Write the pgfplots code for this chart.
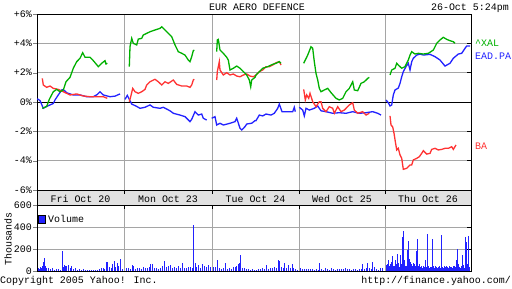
\documentclass[border=0pt]{standalone}
\usepackage{fontspec}
\setmainfont{Liberation Mono}
\usepackage{pgfplots}
\pgfplotsset{compat=1.18}
\definecolor{ygreen}{RGB}{0,176,0}
\definecolor{yred}{RGB}{255,51,51}
\definecolor{yblue}{RGB}{34,34,255}
\definecolor{ygrid}{RGB}{165,165,165}
\definecolor{ystrip}{RGB}{225,225,225}
\begin{document}
\fontsize{10}{12}\selectfont
\begin{tikzpicture}[x=1bp,y=1bp]
\path[use as bounding box] (0,0) rectangle (512,288);
% main axis
\begin{axis}[at={(37bp,98bp)}, anchor=south west, scale only axis,
  width=434bp, height=176bp, xmin=37, xmax=471, ymin=-6, ymax=6,
  /pgf/number format/assume math mode=true,
  xtick={124,212,299,385}, xticklabels={}, xmajorgrids, x tick style={draw=none},
  ytick={-6,-4,-2,0,2,4,6}, yticklabels={-6\%,-4\%,-2\%,0\%,+2\%,+4\%,+6\%},
  ymajorgrids, ytick pos=left, tick align=outside, major tick length=4bp,
  grid style={ygrid, line width=0.8bp}, axis line style={black, line width=0.8bp},
  yticklabel style={inner sep=1bp},
  unbounded coords=jump, clip=true]
\draw[black, line width=0.8bp] (axis cs:37,0) -- (axis cs:471,0);
\pgfplotsinvokeforeach{-4,-2,2,4}{\draw[black, line width=0.8bp] (axis cs:467,#1) -- (axis cs:471,#1);}
% EAD.PA
\addplot[yblue, line width=1.3bp] coordinates {
(37.3,0.22) (40,0.1) (43.3,-0.43) (46.7,-0.3) (50,-0.2) (53.3,-0.1) (55,0.14) (58.3,0.48) (61.7,0.82) (63.3,0.85) (66.7,0.63) (70,0.55) (73.3,0.48) (80,0.48) (86.7,0.36) (93.3,0.36) (97,0.5) (100,0.7) (103.3,0.48) (110,0.36) (115,0.4) (120,0.55)
(121,nan)
(125,0.18) (127.3,0.45) (129.3,0.18) (131.7,-0.14) (136.7,-0.3) (140,-0.43) (145,-0.36) (150,-0.2) (153.3,-0.36) (160,-0.43) (163.3,-0.36) (170,-0.6) (173.3,-0.77) (180,-0.89) (185,-1.0) (190,-1.34) (191.7,-1.18) (195,-0.66) (198.3,-0.89) (201.7,-0.82) (203.3,-1.11) (206.7,-1.23)
(208,nan)
(211.7,-1.11) (215,-1.0) (216.7,-1.57) (220,-1.45) (223.3,-1.57) (230,-1.45) (235,-1.34) (236.7,-1.11) (240,-1.79) (241.7,-1.91) (245,-1.68) (246.7,-1.5) (251.7,-1.45) (255,-1.27) (256,-1.27) (259.3,-0.89) (262.7,-0.95) (266,-0.82) (271,-0.89) (274.3,-0.77) (277.7,-0.43) (279.3,-0.14) (282,-0.66) (286,-0.66) (292.7,-0.66) (294.3,-0.36) (295.3,-0.66)
(297,nan)
(299.3,-0.36) (302.7,-0.55) (304.3,-0.95) (306,-0.43) (309.3,-0.55) (314.3,-0.43) (317.7,-0.27) (321,-0.6) (326,-0.66) (332.7,-0.77) (339.3,-0.73) (346,-0.77) (352.7,-0.66) (359.3,-0.77) (366,-0.73) (372.7,-0.66) (377.7,-0.77) (381,-0.89)
(383,nan)
(386,0.14) (388.3,-0.05) (390,-0.27) (391.7,-0.2) (393.3,0.48) (395,0.82) (398.3,0.95) (400,1.27) (401.7,1.72) (403.3,2.07) (406,2.41) (408.3,2.64) (410,2.18) (411.7,2.75) (413.3,2.98) (416.7,3.2) (420,3.27) (423.3,3.2) (430,3.25) (435,3.09) (440,2.86) (445,2.45) (450,2.64) (453.3,2.98) (458.3,3.27) (461.7,3.32) (465,3.66) (466.7,3.82) (470,3.82)
};
% BA
\addplot[yred, line width=1.3bp] coordinates {
(42.3,1.61) (43.3,1.16) (46.7,1.0) (50,1.09) (53.3,0.93) (58.3,0.86) (63.3,0.7) (70,0.48) (76.7,0.55) (83.3,0.41) (90,0.36) (96.7,0.36) (103.3,0.36) (107.3,0.25)
(108,nan)
(129.3,0.02) (130.7,0.36) (132.7,0.93) (135,0.7) (138.3,0.59) (141.7,0.7) (145,0.86) (146.7,1.16) (150,1.38) (155,1.55) (158.3,1.38) (161.7,1.16) (165,1.38) (168.3,1.27) (173.3,1.5) (176.7,1.2) (181.7,1.09) (186.7,1.09) (190,1.0) (191.7,1.16) (193.3,1.5) (194.3,1.55)
(195,nan)
(216.7,1.5) (217.3,2.07) (219.3,2.75) (220,2.18) (223.3,1.84) (226.7,2.0) (230,1.84) (233.3,1.91) (236.7,1.77) (240,1.72) (243.3,1.84) (246.7,1.91) (250,1.77) (253.3,1.72) (256,1.84) (259.3,2.07) (262.7,2.18) (266,2.41) (269.3,2.41) (272.7,2.52) (276,2.68) (279.3,2.75) (281,2.52)
(282,nan)
(303.7,0.86) (305.3,0.14) (306.7,0.48) (308.7,0.25) (310,0.59) (312.7,0.02) (316,-0.32) (319.3,0.02) (321,0.02) (322.7,-0.43) (326,-0.66) (329.3,-0.32) (332.7,-0.43) (334.3,-0.77) (337.7,-0.32) (341,-0.66) (344.3,-0.55) (349.3,-0.2) (352.7,-0.05) (354.3,-0.55) (357.7,-0.77) (362.7,-0.66) (366,-0.89) (369.3,-0.77)
(370,nan)
(390,-0.95) (391,-1.57) (392.7,-1.7) (394,-2.13) (395.3,-2.7) (396.7,-3.27) (398.3,-3.16) (400,-3.61) (401.7,-3.84) (403.3,-4.59) (406.7,-4.52) (410,-4.29) (411.7,-4.29) (413.3,-3.95) (416.7,-3.84) (419.3,-3.73) (421.7,-3.5) (423.3,-3.32) (426.7,-3.55) (430,-3.5) (431.7,-3.23) (435,-3.16) (438.3,-3.27) (441.7,-3.23) (445,-3.16) (448.3,-3.16) (451.7,-3.05) (453.3,-3.23) (456,-2.93)
};
% ^XAL
\addplot[ygreen, line width=1.3bp] coordinates {
(42.3,-0.43) (46.7,-0.3) (49.3,0.18) (53.3,0.7) (56.7,0.86) (60,0.7) (63.3,0.82) (66,1.38) (70,1.68) (73.3,2.3) (76.7,2.75) (80,2.98) (82.7,3.36) (85,3.05) (90,3.05) (93.3,2.82) (98.3,2.41) (101.7,2.64) (105,2.82) (106,2.59) (107.3,2.64)
(108,nan)
(129.3,2.41) (130,3.77) (131.7,4.34) (133.3,4.0) (136.7,3.89) (138.3,4.29) (141.7,4.34) (143.3,4.57) (146.7,4.68) (150,4.79) (155,4.91) (160,5.02) (161.7,5.13) (165,4.91) (168.3,4.68) (171.7,4.45) (175,3.89) (178.3,3.43) (181.7,3.32) (185,3.2) (188.3,2.86) (190,2.75) (191.7,3.09) (193.3,3.5) (194.3,3.54)
(195,nan)
(216.7,3.43) (217.3,4.23) (218.3,4.27) (220,3.54) (223.3,3.32) (226.7,3.05) (228.3,2.86) (230,2.18) (233.3,2.3) (236.7,2.45) (240,2.3) (243.3,2.07) (246.7,1.84) (249.3,1.5) (250.7,1.04) (251.7,1.5) (255,1.68) (256,1.84) (259.3,2.07) (262.7,2.3) (267.7,2.41) (272.7,2.57) (276,2.64) (279.3,2.75) (281,2.64)
(282,nan)
(303.7,2.64) (305.3,2.86) (307.7,3.2) (311,3.77) (312.7,3.66) (314.3,2.75) (316,1.95) (317.7,1.5) (319.3,0.93) (321,0.7) (324.3,0.82) (327.7,0.93) (331,0.64) (336,0.25) (339.3,0.14) (342.7,0.25) (346,0.7) (349.3,0.93) (352.7,1.38) (354.3,0.82) (357.7,0.77) (361,1.27) (364.3,1.38) (367.7,1.61) (369.3,1.68)
(370,nan)
(390,1.84) (391.7,2.18) (395,2.3) (396.7,2.64) (398.3,2.52) (401.7,2.3) (405,2.41) (408.3,2.86) (410,3.2) (411.7,3.43) (415,3.27) (418.3,3.32) (423.3,3.27) (428.3,3.32) (433.3,3.54) (436.7,4.0) (440,4.23) (443.3,4.41) (446.7,4.27) (450,4.18) (453.3,4.11) (455,4.0)
};
\end{axis}
% volume axis
\begin{axis}[at={(37bp,17bp)}, anchor=south west, scale only axis,
  width=434bp, height=66bp, xmin=37, xmax=471, ymin=0, ymax=600,
  /pgf/number format/assume math mode=true,
  xtick={124,212,299,385}, xticklabels={}, xmajorgrids, x tick style={draw=none},
  ytick={0,200,400,600}, ymajorgrids, ytick pos=left, tick align=outside, major tick length=4bp,
  grid style={ygrid, line width=0.8bp}, axis line style={black, line width=0.8bp},
  yticklabel style={inner sep=1bp},
  legend style={draw=none, fill=none, at={(0,0.9)}, anchor=north west, inner sep=1bp,
    legend cell align=left, font=\fontsize{10}{12}\selectfont},
  legend image code/.code={\fill[yblue] (0bp,-4bp) rectangle (7bp,4bp); \draw[black,line width=0.5bp] (0bp,-4bp) rectangle (7bp,4bp);},
  ]
\pgfplotsinvokeforeach{200,400}{\draw[black, line width=0.8bp] (axis cs:467,#1) -- (axis cs:471,#1);}
\addplot[ycomb, yblue, line width=1bp] coordinates {
(38,30)(39,20)(40,35)(41,25)(42,45)(43,80)(44,120)(45,50)(46,25)(48,30)(50,15)(52,30)(54,10)(56,20)(58,15)(60,10)(62,185)(63,40)(64,55)(65,45)(66,50)(68,55)(70,30)(71,45)(73,15)(75,25)(77,10)(79,15)(81,10)(83,15)(85,10)(87,5)(89,10)(91,5)(93,10)(95,5)(97,10)(99,15)(101,25)(103,30)(104,15)(106,80)(107,85)(109,40)(111,30)(112,60)(114,90)(115,35)(117,70)(118,45)(120,112)(122,20)
(126,25)(128,30)(130,20)(132,57)(133,45)(135,20)(137,25)(139,30)(141,20)(143,35)(145,25)(147,30)(149,40)(150,60)(152,66)(154,25)(156,30)(158,20)(160,30)(162,45)(164,94)(166,40)(168,50)(170,55)(172,30)(174,40)(176,30)(178,45)(180,25)(182,70)(184,30)(186,25)(188,35)(190,40)(192,30)(193,420)(195,70)(196,40)(198,55)(200,30)(202,60)(204,45)(206,35)(208,55)(210,40)
(213,40)(215,35)(217,100)(219,30)(221,15)(223,25)(225,70)(227,20)(229,30)(231,15)(233,35)(235,40)(236,50)(238,60)(239,70)(240,145)(242,30)(244,25)(246,15)(248,20)(250,10)(252,15)(254,10)(256,10)(258,20)(260,15)(262,25)(264,20)(266,55)(268,20)(270,25)(272,30)(274,35)(276,30)(278,100)(279,95)(281,40)(283,30)(284,70)(286,30)(288,55)(290,25)(292,65)(293,30)(295,15)(297,10)
(300,25)(302,15)(304,20)(306,15)(308,20)(310,15)(312,20)(314,10)(316,15)(318,10)(319,75)(321,15)(323,10)(325,25)(327,15)(329,10)(331,25)(333,15)(335,10)(337,20)(339,15)(341,20)(343,15)(345,25)(347,15)(349,20)(351,10)(353,15)(355,20)(357,10)(359,15)(361,20)(362,64)(364,20)(366,25)(367,77)(369,30)(371,20)(372,85)(374,40)(376,20)(378,10)(380,25)(382,30)
(386,55)(387,60)(388,100)(389,45)(390,60)(391,80)(392,140)(393,50)(394,45)(395,100)(396,60)(397,155)(398,70)(399,40)(400,145)(401,60)(402,305)(403,364)(404,100)(405,50)(406,45)(407,190)(408,270)(409,110)(410,80)(411,60)(412,45)(413,70)(414,60)(415,50)(416,185)(417,295)(418,45)(419,60)(420,40)(421,50)(422,30)(423,45)(424,40)(425,100)(426,40)(427,340)(428,45)(429,30)(430,40)(431,35)(432,295)(433,45)(434,30)(435,50)(436,40)(437,30)(438,40)(439,50)(440,30)(441,327)(442,40)(443,30)(444,45)(445,35)(446,50)(447,40)(448,30)(449,45)(450,35)(451,40)(452,30)(453,50)(454,45)(455,35)(456,100)(457,200)(458,60)(459,40)(460,30)(461,50)(462,145)(463,55)(464,30)(465,310)(466,260)(467,60)(468,318)(469,40)
};
\addlegendentry{Volume}
\end{axis}
% date strip
\fill[ystrip] (37,83) rectangle (471,98);
\draw[black, line width=0.8bp] (37,98) -- (471,98);
\draw[black, line width=0.8bp] (37,83) -- (471,83);
\draw[black, line width=0.8bp] (37,83) -- (37,98);
\draw[black, line width=0.8bp] (471,83) -- (471,98);
\foreach \xx in {124,212,299,385} {\draw[black, line width=0.8bp] (\xx,94) -- (\xx,98); \draw[black, line width=0.8bp] (\xx,83) -- (\xx,79);}
\node[anchor=base, inner sep=0] at (80.5,86) {Fri Oct 20};
\node[anchor=base, inner sep=0] at (168,86) {Mon Oct 23};
\node[anchor=base, inner sep=0] at (255.5,86) {Tue Oct 24};
\node[anchor=base, inner sep=0] at (342,86) {Wed Oct 25};
\node[anchor=base, inner sep=0] at (428,86) {Thu Oct 26};
% titles
\node[anchor=base, inner sep=0] at (257,278) {EUR AERO DEFENCE};
\node[anchor=base east, inner sep=0] at (509,278) {26-Oct 5:24pm};
% series labels
\node[anchor=base west, inner sep=0, text=ygreen] at (475,241.5) {\textasciicircum XAL};
\node[anchor=base west, inner sep=0, text=yblue] at (475,228.5) {EAD.PA};
\node[anchor=base west, inner sep=0, text=yred] at (475,138.5) {BA};
% volume ylabel
\node[rotate=90, inner sep=0] at (8,49) {Thousands};
% footer
\node[anchor=base west, inner sep=0] at (0,4.5) {Copyright 2005 Yahoo! Inc.};
\node[anchor=base east, inner sep=0] at (511,4.5) {http://finance.yahoo.com/};
\end{tikzpicture}
\end{document}
